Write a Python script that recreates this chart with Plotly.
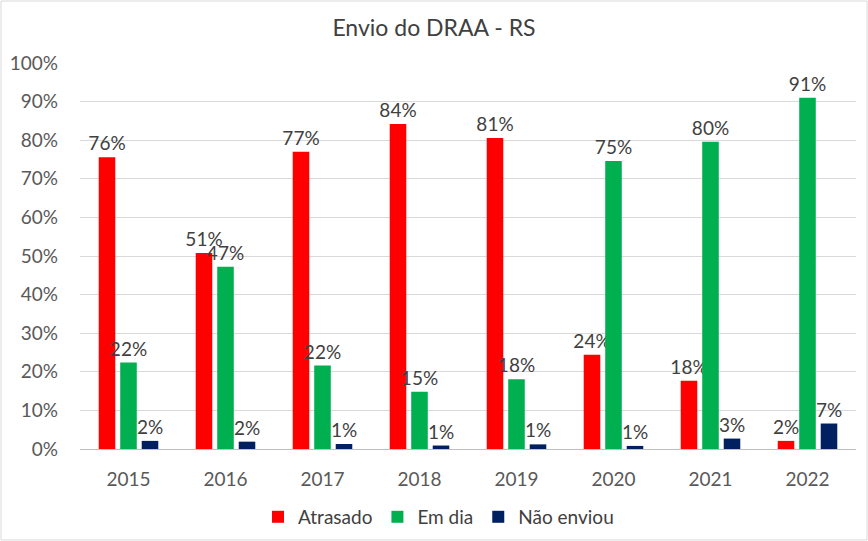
import plotly.graph_objects as go

# data (fractions)
years = ["2015", "2016", "2017", "2018", "2019", "2020", "2021", "2022"]
atrasado = [0.756, 0.508, 0.770, 0.842, 0.806, 0.244, 0.177, 0.021]
em_dia = [0.224, 0.472, 0.216, 0.148, 0.181, 0.746, 0.796, 0.910]
nao_enviou = [0.021, 0.019, 0.013, 0.009, 0.012, 0.008, 0.027, 0.066]

series = [
    ("Atrasado", atrasado, "#FF0000"),
    ("Em dia", em_dia, "#00B050"),
    ("Não enviou", nao_enviou, "#002060"),
]

FONT = "Lato, Calibri, 'Open Sans', sans-serif"

fig = go.Figure()
for name, vals, color in series:
    fig.add_trace(go.Bar(
        x=years,
        y=vals,
        name=name,
        marker=dict(color=color, line=dict(width=0)),
        texttemplate="%{y:.0%}",
        textposition="outside",
        constraintext="none",
        textfont=dict(size=19, color="#404040", family=FONT),
        cliponaxis=False,
    ))

fig.update_layout(
    width=868,
    height=541,
    barmode="group",
    bargap=0.335,
    bargroupgap=0.23,
    paper_bgcolor="white",
    plot_bgcolor="white",
    margin=dict(l=80, r=12, t=63, b=92, autoexpand=False),
    title=dict(
        text="Envio do DRAA - RS",
        x=0.5, xanchor="center",
        y=0.948, yanchor="middle",
        font=dict(size=23, color="#404040", family=FONT),
    ),
    font=dict(family=FONT, color="#595959"),
    showlegend=True,
    legend=dict(
        orientation="h",
        x=0.462, xanchor="center",
        y=-0.176, yanchor="middle",
        font=dict(size=19, color="#404040"),
        traceorder="normal",
    ),
)

fig.update_yaxes(
    range=[0, 1],
    dtick=0.1,
    tickformat=".0%",
    showgrid=True,
    gridcolor="#D9D9D9",
    gridwidth=1,
    zeroline=False,
    showline=False,
    ticks="",
    ticklabelstandoff=21,
    tickfont=dict(size=19, color="#595959"),
)

fig.update_xaxes(
    showline=True,
    linecolor="#BFBFBF",
    linewidth=1,
    ticks="",
    ticklabelstandoff=13,
    tickfont=dict(size=19, color="#595959"),
    showgrid=False,
)

# chart area border
fig.add_shape(
    type="rect", xref="paper", yref="paper",
    x0=-79 / 776, x1=1 + 11 / 776, y0=-91 / 386, y1=1 + 62 / 386,
    line=dict(color="#D9D9D9", width=1),
)

fig.write_html(
    "out.html",
    config={"displayModeBar": False},
    post_script="document.body.style.margin='0';",
)
